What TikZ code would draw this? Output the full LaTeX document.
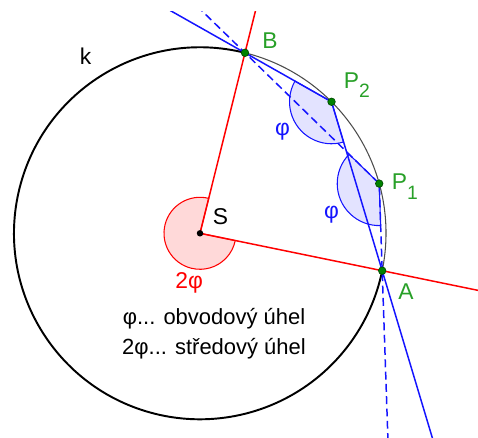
\documentclass[tikz,border=0pt]{standalone}
\usepackage{fontspec}
\setmainfont{Liberation Sans}
\usetikzlibrary{calc}

\definecolor{zelena}{RGB}{40,160,40}
\definecolor{bodzel}{RGB}{0,130,0}
\definecolor{modra}{RGB}{20,20,255}
\definecolor{cervena}{RGB}{255,0,0}

\tikzset{
	tlusta/.style={line width=1.1pt, black},
	tenka/.style={line width=0.6pt, black!70},
	primka/.style={line width=0.85pt, modra},
	polopr/.style={line width=0.85pt, cervena},
	carkovana/.style={dash pattern=on 4.5pt off 2.5pt},
	stred/.style={line width=0.6pt, draw=cervena, fill=cervena!15},
	obvod/.style={line width=0.6pt, draw=modra, fill=modra!12},
	bod/.style={fill=bodzel, draw=bodzel!60!black, line width=0.4pt},
	popis/.style={font=\fontsize{13}{15}\selectfont, inner sep=0pt, anchor=base west}
}

\begin{document}
\begin{tikzpicture}
	\useasboundingbox (-4,-4.094) rectangle (5.56,4.666);

	% body na kruznici
	\coordinate (S) at (0,0);
	\coordinate (B) at (76:3.72);
	\coordinate (P2) at (45:3.72);
	\coordinate (P1) at (15.5:3.72);
	\coordinate (A) at (-11.6:3.72);

	% stredovy uhel 2phi
	\filldraw[stred] (S) -- (76:0.72) arc[start angle=76, end angle=348.4, radius=0.72] -- cycle;

	% obvodove uhly phi
	\filldraw[obvod] (P2) -- ++(150.5:0.84) arc[start angle=150.5, delta angle=136.2, radius=0.84] -- cycle;
	\filldraw[obvod] (P1) -- ++(135.75:0.84) arc[start angle=135.75, delta angle=136.2, radius=0.84] -- cycle;

	% kruznice k
	\draw[tenka] (A) arc[start angle=-11.6, end angle=76, radius=3.72];
	\draw[tlusta] (B) arc[start angle=76, end angle=348.4, radius=3.72];

	% primky a polopriamky
	\begin{scope}
		\clip (-4,-4.094) rectangle (5.56,4.426);
		\draw[polopr] (S) -- ($(S)!2!(B)$);
		\draw[polopr] (S) -- ($(S)!2!(A)$);
		\draw[primka] ($(P2)!3!(B)$) -- (P2) -- ($(P2)!4!(A)$);
		\draw[primka, carkovana] ($(P1)!3!(B)$) -- (P1) -- ($(P1)!6!(A)$);
	\end{scope}

	% body
	\fill[black] (S) circle (0.065);
	\foreach \p in {B,P2,P1,A} \filldraw[bod] (\p) circle (0.075);

	% popisky
	\node[popis] (k) at (-2.41,3.38) {k};
	\node[popis] (S-lab) at (0.25,0.17) {S};
	\node[popis, text=zelena] (B-lab) at (1.24,3.70) {B};
	\node[popis, text=zelena] (P2-lab) at (2.87,2.90) {P\raisebox{-5.5pt}{\fontsize{11}{11}\selectfont 2}};
	\node[popis, text=zelena] (P1-lab) at (3.83,0.87) {P\raisebox{-5.5pt}{\fontsize{11}{11}\selectfont 1}};
	\node[popis, text=zelena] (A-lab) at (3.96,-1.33) {A};
	\node[popis, text=cervena] (uhel2) at (-0.5,-1.10) {2φ};
	\node[font=\fontsize{13}{15}\selectfont, text=modra, inner sep=0pt] (uhel1) at (1.65,2.03) {φ};
	\node[font=\fontsize{13}{15}\selectfont, text=modra, inner sep=0pt] (uhel1b) at (2.63,0.38) {φ};

	% legenda
	\node[font=\fontsize{12.5}{15}\selectfont, inner sep=0pt, anchor=base] (leg1) at (0.28,-1.834) {φ... obvodový úhel};
	\node[font=\fontsize{12.5}{15}\selectfont, inner sep=0pt, anchor=base] (leg2) at (0.28,-2.434) {2φ... středový úhel};
\end{tikzpicture}
\end{document}
